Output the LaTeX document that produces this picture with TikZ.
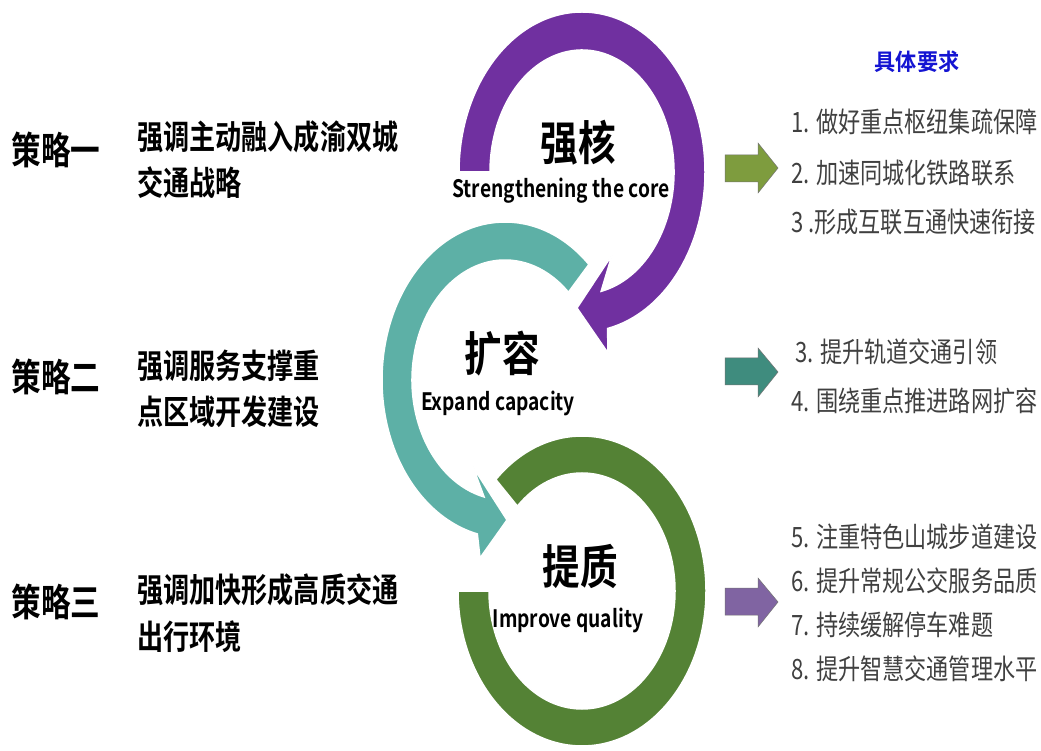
\documentclass[tikz,border=0pt]{standalone}
\usepackage{fontspec}
\newfontfamily\ringcjk{Noto Sans CJK SC Bold}[FakeStretch=0.8]
\newfontfamily\leftcjk{Noto Sans CJK SC Bold}[FakeStretch=0.78]
\newfontfamily\headcjk{Noto Sans CJK SC Bold}[FakeStretch=0.92]
\newfontfamily\itemcjk{Noto Sans CJK SC}[FakeStretch=0.79]
\definecolor{ringpurple}{HTML}{7030A0}
\definecolor{ringteal}{HTML}{5DB0A6}
\definecolor{ringgreen}{HTML}{548235}
\definecolor{blkgreen}{HTML}{7E9C3E}
\definecolor{blkteal}{HTML}{3F8C7E}
\definecolor{blkpurple}{HTML}{8064A2}
\definecolor{itemgray}{HTML}{404040}
\definecolor{headblue}{HTML}{1414D2}
\begin{document}
\begin{tikzpicture}[x=1pt,y=1pt,
  ring/.style={draw=white,line width=1.5pt},
  blockarrow/.style={draw=black!55,line width=0.5pt},
  strat/.style={font=\leftcjk\fontsize{38}{40}\selectfont,inner sep=0pt},
  stratline/.style={font=\leftcjk\fontsize{33.5}{36}\selectfont,inner sep=0pt,anchor=west},
  ringtitle/.style={font=\ringcjk\fontsize{47}{50}\selectfont,inner sep=0pt},
  ringsub/.style={font=\ringcjk\fontsize{24}{26}\selectfont,inner sep=0pt},
  item/.style={font=\itemcjk\fontsize{28}{30}\selectfont,text=itemgray,inner sep=0pt,anchor=west},
  head/.style={font=\headcjk\fontsize{23}{25}\selectfont,text=headblue,inner sep=0pt}]
\useasboundingbox (0,0) rectangle (1041,750);
\fill[white] (0,0) rectangle (1041,750);

% green ring (no arrowhead)
\path[ring,fill=ringgreen] ([shift={(582,159)}]134:124pt and 155pt)
  arc[start angle=134,end angle=-180,x radius=124pt,y radius=155pt]
  -- ([shift={(582,159)}]-180:93pt and 118pt)
  arc[start angle=-180,end angle=134,x radius=93pt,y radius=118pt] -- cycle;

% teal ring with arrowhead
\path[ring,fill=ringteal] ([shift={(505,370)}]47:123pt and 158pt)
  arc[start angle=47,end angle=257,x radius=123pt,y radius=158pt]
  -- (480,192) -- (507,230) -- (473,283)
  -- ([shift={(505,370)}]257:93pt and 120pt)
  arc[start angle=257,end angle=47,x radius=93pt,y radius=120pt] -- cycle;

% purple ring with arrowhead
\path[ring,fill=ringpurple] ([shift={(582,578)}]180:123pt and 160pt)
  arc[start angle=180,end angle=-78,x radius=123pt,y radius=160pt]
  -- (608,397) -- (577,442) -- (612,495)
  -- ([shift={(582,578)}]-78:92pt and 122pt)
  arc[start angle=-78,end angle=180,x radius=92pt,y radius=122pt] -- cycle;

% ring labels
\node[ringtitle] (t1) at (578,607) {强核};
\node[ringsub] (s1) at (561,559) {Strengthening the core};
\node[ringtitle] (t2) at (502,396) {扩容};
\node[ringsub] (s2) at (498,347) {Expand capacity};
\node[ringtitle] (t3) at (580,184) {提质};
\node[ringsub] (s3) at (568,130) {Improve quality};

% left strategies
\node[strat] (c1) at (56,600) {策略一};
\node[stratline] (c1a) at (137,613) {强调主动融入成渝双城};
\node[stratline] (c1b) at (137,567) {交通战略};
\node[strat] (c2) at (56,373) {策略二};
\node[stratline] (c2a) at (137,384) {强调服务支撑重};
\node[stratline] (c2b) at (137,338) {点区域开发建设};
\node[strat] (c3) at (56,148) {策略三};
\node[stratline] (c3a) at (137,160) {强调加快形成高质交通};
\node[stratline] (c3b) at (137,113) {出行环境};

% block arrows
\path[blockarrow,fill=blkgreen] (725,595) -- (758,595) -- (758,607) -- (778,582)
  -- (758,557) -- (758,568) -- (725,568) -- cycle;
\path[blockarrow,fill=blkteal] (725,392) -- (758,392) -- (758,402) -- (778,378)
  -- (758,353) -- (758,365) -- (725,365) -- cycle;
\path[blockarrow,fill=blkpurple] (725,162) -- (758,162) -- (758,172) -- (778,148)
  -- (758,123) -- (758,135) -- (725,135) -- cycle;

% right requirements
\node[head] (h) at (917,688) {具体要求};
\node[item] (r1) at (791,628) {1. 做好重点枢纽集疏保障};
\node[item] (r2) at (791,577) {2. 加速同城化铁路联系};
\node[item] (r3) at (791,528) {3 .形成互联互通快速衔接};
\node[item] (r4) at (795,398) {3. 提升轨道交通引领};
\node[item] (r5) at (791,349) {4. 围绕重点推进路网扩容};
\node[item] (r6) at (791,213) {5. 注重特色山城步道建设};
\node[item] (r7) at (791,169) {6. 提升常规公交服务品质};
\node[item] (r8) at (791,125) {7. 持续缓解停车难题};
\node[item] (r9) at (791,81) {8. 提升智慧交通管理水平};
\end{tikzpicture}
\end{document}
